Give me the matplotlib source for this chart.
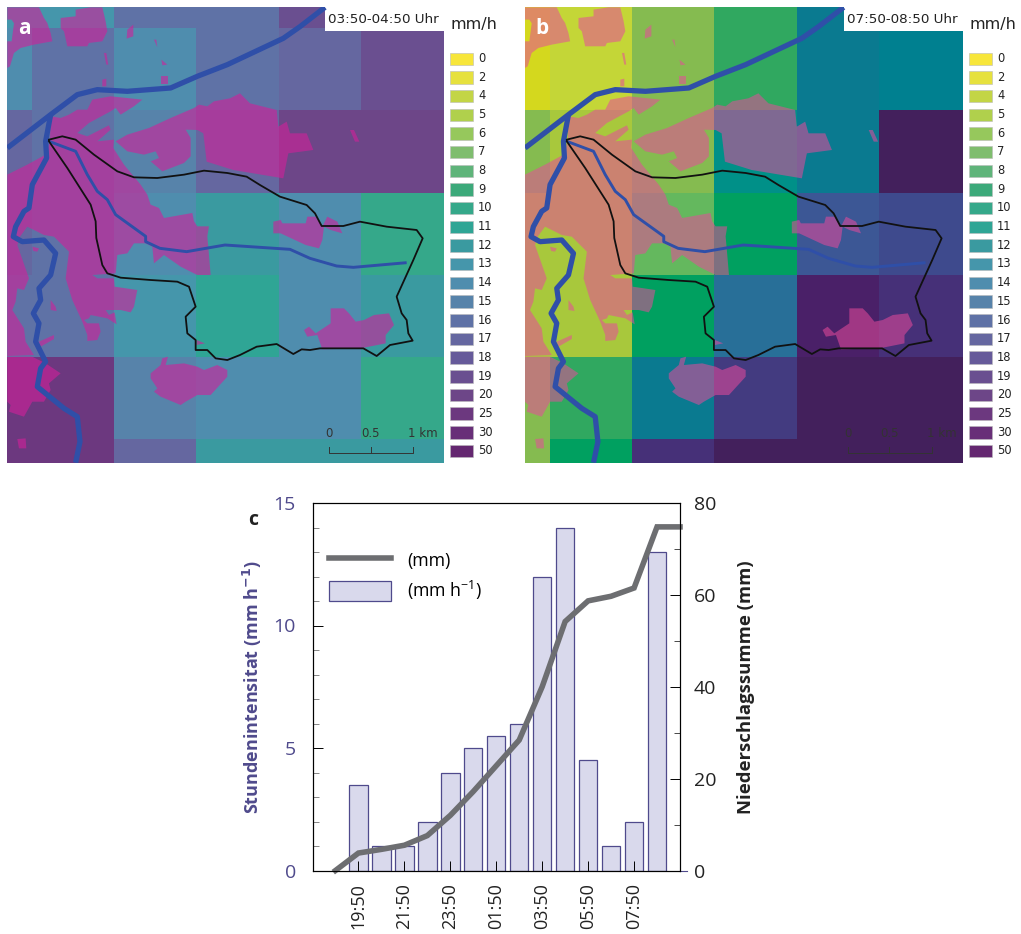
import numpy as np
import matplotlib
matplotlib.use("Agg")
import matplotlib.pyplot as plt
from matplotlib.colors import ListedColormap, BoundaryNorm
from matplotlib.lines import Line2D
from matplotlib.patches import Patch, Polygon, Rectangle
from matplotlib.transforms import ScaledTranslation

plt.rcParams["mathtext.default"] = "regular"

W, H = 1021, 934

# map legend
classes = [0, 2, 4, 5, 6, 7, 8, 9, 10, 11, 12, 13, 14, 15, 16, 17, 18, 19, 20, 25, 30, 50]
legend_colors = ["#f7e63a", "#e6e13e", "#c3d546", "#b0d04c", "#96c85c", "#7fbd6e", "#5fb47a", "#3ca97a",
                 "#35a88a", "#2fa595", "#3a9aa0", "#4596ab", "#4f8dae", "#5783aa", "#5f72a6", "#6567a0",
                 "#665a9a", "#6a4f90", "#6d4688", "#6c387f", "#682f78", "#642770"]
strong_colors = ["#f3e61e", "#d4d81e", "#c4d637", "#a8c83c", "#85bb50", "#64b85e", "#48b060", "#30a860",
                 "#00a060", "#009088", "#008090", "#0a7a90", "#1c7496", "#286f98", "#32639a", "#3c5795",
                 "#3e4a8d", "#433b80", "#463078", "#47276f", "#4a2068", "#43205c"]

# hourly rain per radar cell (mm/h), rows from north to south
cells_a = [[13, 13, 16, 16, 19, 19],
           [14, 16, 14, 16, 17, 19],
           [17, 16, 15, 17, 20, 20],
           [17, 16, 14, 12, 14, 10],
           [16, 16, 13, 11, 14, 12],
           [25, 25, 15, 14, 14, 10],
           [25, 25, 17, 12, 12, 12]]
cells_b = [[2, 4, 6, 9, 13, 12],
           [2, 4, 6, 9, 13, 12],
           [6, 5, 6, 11, 13, 50],
           [5, 5, 7, 10, 17, 18],
           [5, 5, 10, 15, 30, 20],
           [6, 9, 13, 19, 50, 50],
           [6, 10, 20, 50, 50, 50]]
cell_x = [22, 96, 342, 588, 836, 1082, 1332]
cell_y = [22, 85, 330, 578, 824, 1070, 1318, 1388]

# settlement areas
urban = [
    [(182, 54), (227, 49), (227, 29), (272, 22), (307, 22), (317, 64), (322, 94), (307, 124), (267, 129), (262, 139),
     (202, 139), (192, 94), (182, 84)],
    [(22, 22), (117, 22), (132, 54), (142, 69), (152, 99), (157, 124), (102, 134), (62, 144), (42, 159), (30, 199),
     (22, 204), (22, 124), (35, 124), (42, 70), (35, 59), (22, 59)],
    [(382, 89), (400, 74), (400, 109), (380, 116)],
    [(462, 119), (469, 119), (472, 142)],
    [(484, 179), (502, 194), (487, 196)],
    [(484, 229), (505, 229), (505, 252), (484, 252)],
    [(312, 159), (319, 159), (325, 194), (319, 194)],
    [(307, 239), (319, 236), (319, 259), (307, 259)],
    # central lobe
    [(347, 424), (382, 404), (447, 384), (512, 354), (582, 324), (597, 314), (622, 319), (642, 304), (690, 295),
     (720, 280), (750, 310), (830, 330), (835, 380), (860, 365), (870, 400), (920, 400), (940, 450), (865, 460),
     (850, 535), (700, 510), (620, 485), (610, 400), (592, 390), (557, 389), (572, 414), (572, 469), (552, 489),
     (487, 514), (452, 484), (477, 474), (467, 454), (432, 464), (382, 454)],
    # west side of town
    [(152, 349), (182, 354), (207, 344), (232, 329), (262, 329), (277, 299), (332, 289), (342, 290), (427, 299),
     (402, 319), (362, 344), (347, 324), (332, 334), (267, 369), (232, 399), (262, 409), (327, 376), (332, 389),
     (292, 424), (342, 419), (340, 444), (372, 494), (422, 554), (442, 584), (452, 614), (477, 624), (492, 654),
     (577, 639), (582, 664), (592, 679), (627, 679), (622, 709), (627, 765), (632, 825), (592, 825), (542, 800),
     (492, 765), (462, 790), (457, 740), (437, 730), (402, 730), (382, 760), (352, 765), (347, 820), (277, 825),
     (292, 835), (342, 835), (344, 860), (412, 870), (402, 920), (392, 937), (362, 930), (344, 930), (317, 930),
     (327, 945), (344, 937), (350, 973), (322, 955), (272, 945), (267, 955), (252, 960), (262, 970), (297, 970),
     (302, 995), (292, 1020), (262, 1023), (262, 1005), (247, 965), (217, 900), (197, 835), (202, 795), (207, 755),
     (162, 710), (132, 705), (82, 680), (60, 710), (52, 735), (87, 835), (72, 870), (52, 865), (47, 905), (37, 930),
     (72, 985), (77, 1025), (102, 1065), (22, 1068), (22, 524), (82, 494), (137, 464), (150, 425)],
    [(22, 1070), (97, 1070), (137, 1090), (182, 1120), (147, 1150), (152, 1170), (132, 1205), (97, 1205), (72, 1250),
     (27, 1235), (32, 1215), (22, 1205)],
    [(52, 1317), (77, 1315), (79, 1345), (57, 1345)],
    [(97, 740), (117, 745), (112, 755), (100, 753)],
    [(152, 900), (167, 920), (170, 933), (152, 930)],
    [(117, 1025), (162, 1005), (162, 1017), (122, 1040)],
    # south
    [(452, 1120), (482, 1095), (487, 1075), (504, 1070), (497, 1095), (552, 1090), (592, 1100), (612, 1110), (652, 1095),
     (682, 1110), (682, 1130), (632, 1185), (592, 1185), (557, 1205), (542, 1215), (482, 1190), (462, 1175), (472, 1165),
     (452, 1135)],
    # east
    [(820, 665), (842, 660), (847, 670), (917, 670), (922, 650), (947, 650), (967, 680), (982, 650), (1012, 665),
     (1027, 700), (992, 690), (972, 680), (967, 720), (957, 745), (917, 735), (842, 700), (820, 700)],
    [(912, 990), (927, 980), (947, 1000), (992, 970), (992, 925), (1032, 925), (1047, 940), (1067, 965), (1092, 960),
     (1122, 945), (1167, 940), (1182, 975), (1157, 1005), (1157, 1030), (1082, 1045), (967, 1048), (952, 1005), (922, 1010)],
    [(1050, 390), (1062, 390), (1078, 425), (1065, 425)],
    [(590, 1020), (615, 1030), (590, 1035)],
]
river_main = [(22, 444), (152, 344), (232, 284), (292, 269), (382, 274), (512, 264), (592, 229), (682, 194), (850, 115),
              (900, 80), (975, 22)]
river_side = [(227, 1388), (240, 1325), (232, 1250), (192, 1225), (112, 1160), (122, 1105), (137, 1085), (107, 1025),
              (117, 970), (100, 940), (122, 900), (117, 865), (152, 825), (167, 760), (132, 720), (67, 725), (40, 710),
              (47, 680), (72, 634), (87, 624), (97, 554), (140, 474), (137, 424), (152, 344)]
stream = [(147, 424), (227, 454), (262, 524), (292, 574), (322, 599), (347, 644), (437, 709), (437, 725), (480, 745),
          (560, 755), (675, 735), (870, 748), (930, 775), (1010, 798), (1060, 802), (1220, 788)]
catchment = [(147, 419), (187, 409), (227, 419), (282, 464), (352, 514), (402, 532), (472, 534), (552, 524), (612, 512),
             (682, 519), (740, 530), (780, 555), (840, 590), (920, 615), (945, 640), (965, 678), (1030, 678), (1080, 665),
             (1160, 680), (1250, 690), (1268, 715), (1240, 780), (1190, 890), (1205, 940), (1220, 960), (1225, 1000),
             (1238, 1022), (1170, 1035), (1130, 1068), (1090, 1045), (1020, 1045), (960, 1045), (930, 1050), (905, 1048),
             (880, 1062), (830, 1032), (770, 1040), (720, 1065), (682, 1080), (647, 1075), (622, 1050), (587, 1050),
             (587, 1020), (562, 1000), (557, 950), (587, 920), (567, 860), (532, 845), (452, 840), (362, 833), (322, 820),
             (307, 795), (289, 714), (287, 664), (272, 614), (202, 504), (147, 424)]

# panel c
hours = list(range(16))
tick_pos = [1, 3, 5, 7, 9, 11, 13]
tick_labels = ["19:50", "21:50", "23:50", "01:50", "03:50", "05:50", "07:50"]
bar_x = list(range(1, 15))
intensity = [3.5, 1, 1, 2, 4, 5, 5.5, 6, 12, 14, 4.5, 1, 2, 13]
cumulative = [0, 3.8, 4.6, 5.5, 7.6, 12, 17.2, 22.8, 28.4, 40, 54.2, 58.7, 59.7, 61.5, 74.8, 74.8]


def px_axes(x0, y0, x1, y1):
    return fig.add_axes([x0 / W, 1 - y1 / H, (x1 - x0) / W, (y1 - y0) / H])


def draw_map(box, cells, colors, tag, period, legend_x, pink, pink_alpha):
    ax = px_axes(*box)
    idx = np.array([[classes.index(v) for v in row] for row in cells])
    cmap = ListedColormap(colors)
    norm = BoundaryNorm(np.arange(len(classes) + 1) - 0.5, len(classes))
    ax.pcolormesh(cell_x, cell_y, idx, cmap=cmap, norm=norm)
    for u in urban:
        ax.add_patch(Polygon(u, closed=True, facecolor=pink, edgecolor="none", alpha=pink_alpha))
    for line, lw in ((river_main, 3.8), (river_side, 3.8), (stream, 2.1)):
        xy = np.array(line)
        ax.plot(xy[:, 0], xy[:, 1], color="#2f4fa8", lw=lw, solid_joinstyle="round", solid_capstyle="butt")
    xy = np.array(catchment)
    ax.plot(xy[:, 0], xy[:, 1], color="#111111", lw=1.3, solid_joinstyle="round")
    ax.set_xlim(22, 1332)
    ax.set_ylim(1388, 22)
    ax.axis("off")

    ax.text(72, 86, tag, color="white", fontsize=15, fontweight="bold", ha="center", va="center",
            family="Open Sans")
    ax.add_patch(Rectangle((975, 22), 357, 70, facecolor="white", edgecolor="none"))
    ax.text(1150, 58, period, fontsize=9.7, ha="center", va="center", color="#222222")

    # scale bar
    ax.plot([988, 988, 1238, 1238], [1340, 1358, 1358, 1340], color="#333333", lw=0.7)
    ax.plot([1112, 1112], [1340, 1358], color="#333333", lw=0.7)
    for x, s in ((988, "0"), (1112, "0.5"), (1268, "1 km")):
        ax.text(x, 1300, s, fontsize=8.5, ha="center", va="center", color="#333333")

    # class legend
    ov.text(legend_x, 25, "mm/h", fontsize=11.5, ha="left", va="center", color="#222222")
    for i, c in enumerate(classes):
        y = 58.5 + i * 18.68
        ov.add_patch(Rectangle((legend_x, y - 6), 22.5, 12.5, facecolor=legend_colors[i], edgecolor="#bbbbbb", lw=0.4))
        ov.text(legend_x + 28, y, str(c), fontsize=8.3, ha="left", va="center", color="#222222")


fig = plt.figure(figsize=(W / 100, H / 100), dpi=100)
ov = fig.add_axes([0, 0, 1, 1])
ov.set_xlim(0, W)
ov.set_ylim(H, 0)
ov.axis("off")

draw_map((7.3, 7.3, 444, 462.7), cells_a, legend_colors, "a", "03:50-04:50 Uhr", 450, "#d2209a", 0.6)
draw_map((525, 7.3, 963, 462.7), cells_b, strong_colors, "b", "07:50-08:50 Uhr", 969, "#e84a9c", 0.55)

# panel c
purple = "#4f4a8c"
grey = "#6d6e71"
font = "Open Sans"
ax = px_axes(312.5, 503, 680, 870.5)
ax.bar(bar_x, intensity, width=0.8, facecolor="#d9d9ec", edgecolor=purple, lw=0.9)
ax.set_xlim(-1, 15)
ax.set_ylim(0, 15)
ax.set_xticks(tick_pos)
ax.set_xticklabels(tick_labels, rotation=90, fontsize=13, family=font, color="#222222")
for lab in ax.get_xticklabels():
    lab.set_transform(lab.get_transform() + ScaledTranslation(3.5 / 100, 0, fig.dpi_scale_trans))
ax.set_yticks([0, 5, 10, 15])
ax.set_yticks(range(16), minor=True)
ax.set_yticklabels(["0", "5", "10", "15"], fontsize=14, family=font, color=purple)
ax.tick_params(axis="y", which="major", direction="in", length=7, width=0.7, pad=12)
ax.tick_params(axis="y", which="minor", direction="in", length=4, width=0.5, color="#555555")
ax.tick_params(axis="x", direction="in", length=7, width=0.7, pad=9)
ax.set_ylabel(r"Stundenintensitat (mm h$\mathbf{^{-1}}$)", fontsize=13, fontweight="bold", family=font,
              color=purple, labelpad=7)
ax.plot([15, 15.3], [0, 0], color=purple, lw=0.8, clip_on=False)

ax2 = ax.twinx()
ax2.plot(hours, cumulative, color=grey, lw=4, solid_joinstyle="miter", clip_on=False)
ax2.set_ylim(0, 80)
ax2.set_yticks([0, 20, 40, 60, 80])
ax2.set_yticks(range(0, 81, 10), minor=True)
ax2.set_yticklabels(["0", "20", "40", "60", "80"], fontsize=14, family=font, color="#222222")
ax2.tick_params(axis="y", which="major", direction="in", length=7, width=0.7, pad=10)
ax2.tick_params(axis="y", which="minor", direction="in", length=4, width=0.5)
ax2.set_ylabel("Niederschlagssumme (mm)", fontsize=13.3, fontweight="bold", family=font, color="#222222", labelpad=15)
for s in ax.spines.values():
    s.set_linewidth(0.8)
for s in ax2.spines.values():
    s.set_linewidth(0.8)

handles = [Line2D([0], [0], color=grey, lw=4),
           Patch(facecolor="#d9d9ec", edgecolor=purple, lw=0.9)]
ax2.legend(handles, ["(mm)", "(mm h$^{-1}$)"], loc="upper left", bbox_to_anchor=(0.046, 0.872), frameon=False,
           prop={"family": font, "size": 12.8}, handlelength=3.48, handleheight=1.42, handletextpad=0.9,
           labelspacing=0.45, borderpad=0, borderaxespad=0)

ov.text(253, 520, "c", fontsize=14, fontweight="bold", ha="center", va="center", family=font, color="#222222")

fig.savefig("out.png", dpi=100)
